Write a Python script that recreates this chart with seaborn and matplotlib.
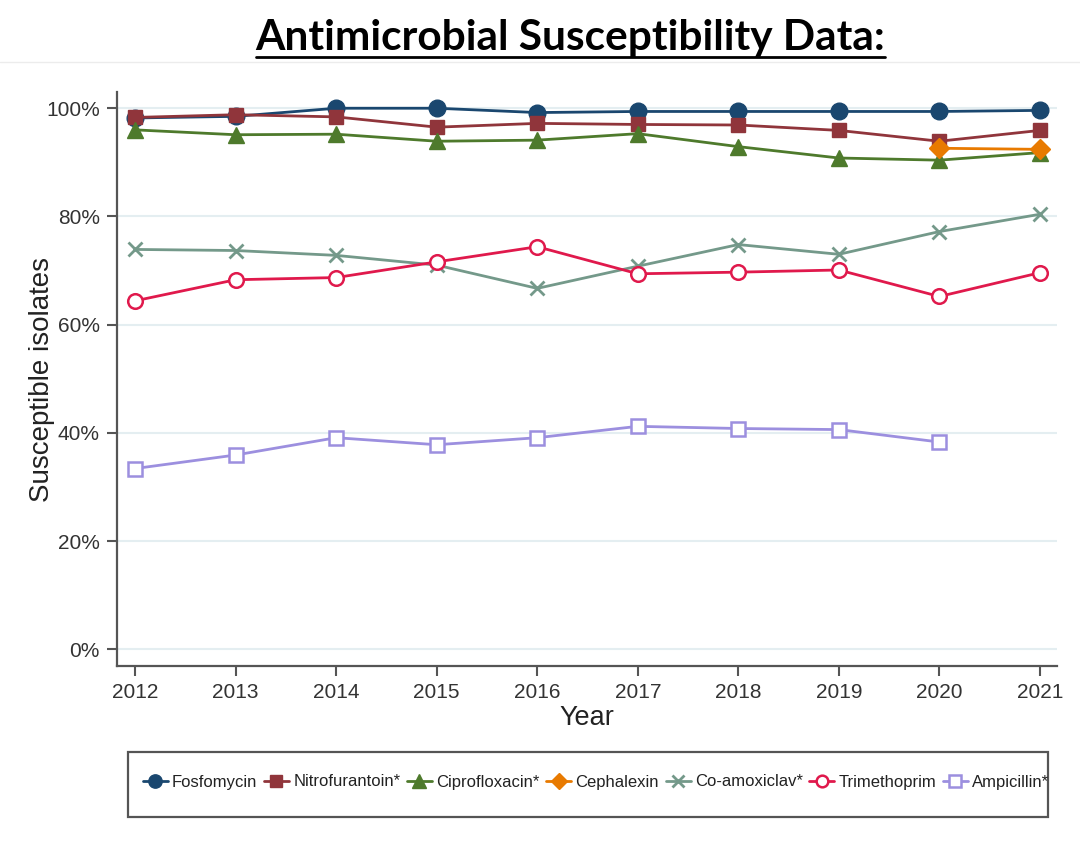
import numpy as np
import pandas as pd
import matplotlib
matplotlib.use("Agg")
import matplotlib.pyplot as plt
import seaborn as sns
from matplotlib.lines import Line2D
from matplotlib.patches import Rectangle

# ---------------- data ----------------
years = [2012, 2013, 2014, 2015, 2016, 2017, 2018, 2019, 2020, 2021]
fosfomycin = [98.2, 98.5, 100.0, 100.0, 99.2, 99.4, 99.4, 99.4, 99.4, 99.6]
nitrofurantoin = [98.3, 98.8, 98.4, 96.5, 97.2, 97.0, 96.9, 95.9, 93.9, 95.9]
ciprofloxacin = [96.0, 95.1, 95.2, 93.9, 94.1, 95.3, 92.9, 90.8, 90.4, 91.8]
cephalexin = [np.nan] * 8 + [92.6, 92.4]
co_amoxiclav = [73.9, 73.7, 72.8, 71.0, 66.7, 70.8, 74.8, 73.0, 77.2, 80.4]
trimethoprim = [64.4, 68.3, 68.7, 71.6, 74.4, 69.4, 69.7, 70.1, 65.2, 69.6]
ampicillin = [33.4, 35.9, 39.1, 37.8, 39.1, 41.2, 40.8, 40.6, 38.3, np.nan]

series_names = ["Fosfomycin", "Nitrofurantoin*", "Ciprofloxacin*", "Cephalexin",
                "Co-amoxiclav*", "Trimethoprim", "Ampicillin*"]
series_values = [fosfomycin, nitrofurantoin, ciprofloxacin, cephalexin,
                 co_amoxiclav, trimethoprim, ampicillin]
ytick_vals = [0, 20, 40, 60, 80, 100]
ytick_labels = ["0%", "20%", "40%", "60%", "80%", "100%"]

title = "Antimicrobial Susceptibility Data:"

# ---------------- styles ----------------
styles = {
    "Fosfomycin":      dict(color="#1a476f", marker="o", ms=12, fill=True, mew=1.0),
    "Nitrofurantoin*": dict(color="#90353b", marker="s", ms=10.5, fill=True, mew=1.0),
    "Ciprofloxacin*":  dict(color="#4e7a2c", marker="^", ms=12, fill=True, mew=1.0),
    "Cephalexin":      dict(color="#e87a00", marker="D", ms=10, fill=True, mew=1.0),
    "Co-amoxiclav*":   dict(color="#74998a", marker="x", ms=10, fill=True, mew=2.0),
    "Trimethoprim":    dict(color="#e0194c", marker="o", ms=10.5, fill=False, mew=1.8),
    "Ampicillin*":     dict(color="#9c8fdf", marker="s", ms=10, fill=False, mew=1.8),
}

sns.set_style("white")
plt.rcParams["font.family"] = ["Liberation Sans", "DejaVu Sans"]

fig = plt.figure(figsize=(10.8, 8.43), dpi=100)
ax = fig.add_axes([117 / 1080, 177 / 843, 940 / 1080, 574 / 843])

for name, vals in zip(series_names, series_values):
    st = styles[name]
    df = pd.DataFrame({"Year": years, "Value": vals}).dropna()
    sns.lineplot(data=df, x="Year", y="Value", ax=ax, label=name,
                 color=st["color"], linewidth=2.0, marker=st["marker"],
                 markersize=st["ms"],
                 markerfacecolor=st["color"] if st["fill"] else "white",
                 markeredgecolor=st["color"], markeredgewidth=st["mew"],
                 legend=False)

ax.set_xlim(2011.82, 2021.17)
ax.set_ylim(-3.1, 103.0)
ax.set_xticks(years)
ax.set_xticklabels([str(y) for y in years])
ax.set_yticks(ytick_vals)
ax.set_yticklabels(ytick_labels)

ax.yaxis.grid(True, color="#e4eef1", linewidth=1.5)
ax.xaxis.grid(False)
ax.set_axisbelow(True)

for s in ["top", "right"]:
    ax.spines[s].set_visible(False)
for s in ["left", "bottom"]:
    ax.spines[s].set_color("#555555")
    ax.spines[s].set_linewidth(1.6)

ax.tick_params(axis="both", which="major", direction="out", length=7.5, width=1.5,
               color="#555555", labelsize=15, labelcolor="#333333", pad=5,
               left=True, bottom=True)

ax.set_xlabel("Year", fontsize=19.5, color="#222222", labelpad=2)
ax.set_ylabel("Susceptible isolates", fontsize=20, color="#222222")
ax.yaxis.set_label_coords(-0.066, 0.5)

# legend
handles = []
for name in series_names:
    st = styles[name]
    handles.append(Line2D([0], [0], color=st["color"], lw=2.0, marker=st["marker"],
                          markersize=st["ms"] * 0.8,
                          markerfacecolor=st["color"] if st["fill"] else "white",
                          markeredgecolor=st["color"], markeredgewidth=st["mew"]))
leg = fig.legend(handles, series_names, loc="center", bbox_to_anchor=(596 / 1080, 61 / 843),
                 ncol=7, frameon=False, fontsize=12, handlelength=1.5,
                 handletextpad=0.25, columnspacing=0.4)
for t in leg.get_texts():
    t.set_color("#222222")

fig.add_artist(Rectangle((128 / 1080, 26 / 843), 920 / 1080, 65 / 843,
                         transform=fig.transFigure, fill=False,
                         edgecolor="#555555", linewidth=1.6))

# separator line under title
fig.add_artist(Line2D([0, 1], [1 - 62 / 843, 1 - 62 / 843], transform=fig.transFigure,
                      color="#ececec", linewidth=1.0))

# title with underline
ttl = fig.text(570.5 / 1080, 1 - 50 / 843, title, ha="center", va="baseline",
               fontsize=30.5, fontweight="bold", family=["Lato", "DejaVu Sans"],
               color="black")
fig.canvas.draw()
bb = ttl.get_window_extent(renderer=fig.canvas.get_renderer())
W, H = fig.bbox.width, fig.bbox.height
uy = 1 - 57 / 843
fig.add_artist(Line2D([bb.x0 / W, bb.x1 / W], [uy, uy], transform=fig.transFigure,
                      color="black", linewidth=2.0))

fig.savefig("out.png", dpi=100)
